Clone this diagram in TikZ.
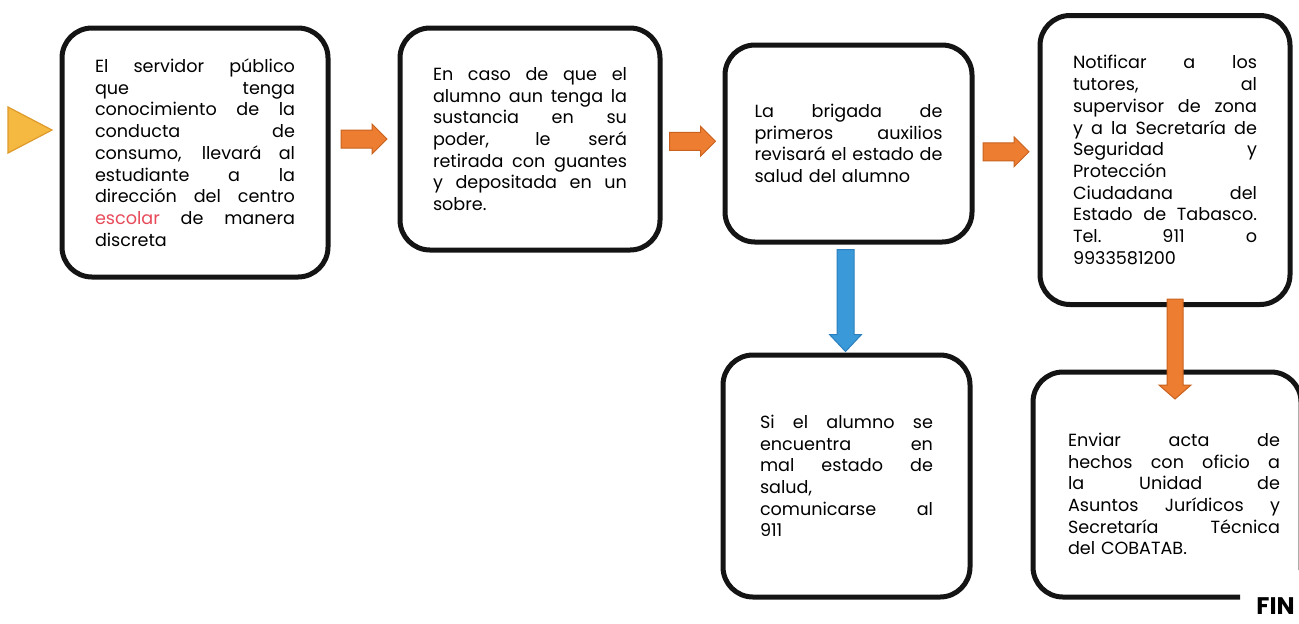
\documentclass[tikz,border=0pt]{standalone}
\usepackage{fontspec}
\setmainfont{Poppins}
\usetikzlibrary{calc}
\definecolor{orfill}{HTML}{ED7D31}
\definecolor{ordraw}{HTML}{C9621F}
\definecolor{blfill}{HTML}{3A9AD9}
\definecolor{bldraw}{HTML}{2C7FBF}
\definecolor{trfill}{HTML}{F5B942}
\definecolor{trdraw}{HTML}{DE9A2A}
\definecolor{escolar}{HTML}{E84B5A}
\newcommand{\J}[1]{\leavevmode\hbox to\hsize{\spaceskip=\fontdimen2\font plus 1fil\relax\xspaceskip=\spaceskip #1}\\}
\tikzset{
  box/.style={draw=black!92, line width=2.5pt, rounded corners=15pt, align=left,
    inner sep=0pt, font=\fontsize{8.8}{10.85}\selectfont},
  rarrow/.pic={\filldraw[fill=orfill, draw=ordraw, line width=0.5pt]
    (-23,-9) -- (8,-9) -- (8,-15) -- (23,0) -- (8,15) -- (8,9) -- (-23,9) -- cycle;},
  darrowblue/.pic={\filldraw[fill=blfill, draw=bldraw, line width=0.5pt]
    (-8.5,-51) -- (8.5,-51) -- (8.5,34) -- (16,34) -- (0,51) -- (-16,34) -- (-8.5,34) -- cycle;},
  darrowor/.pic={\filldraw[fill=orfill, draw=ordraw, line width=0.5pt]
    (-8,-50) -- (8,-50) -- (8,36) -- (16,36) -- (0,50) -- (-16,36) -- (-8,36) -- cycle;},
}
\begin{document}
\begin{tikzpicture}[x=0.5pt, y=-0.5pt]
\useasboundingbox (0,0) rectangle (1299,623);
\fill[white] (0,0) rectangle (1299,623);

% start triangle
\filldraw[fill=trfill, draw=trdraw, line width=0.6pt] (8,107) -- (52,130) -- (8,153) -- cycle;

\node[box, minimum width=133pt, minimum height=124.5pt, text width=100pt] (b1) at (195,152.5) {%
\J{El servidor público}
\J{que tenga}
\J{conocimiento de la}
\J{conducta de}
\J{consumo, llevará al}
\J{estudiante a la}
\J{dirección del centro}
\J{{\color{escolar}escolar} de manera}
discreta};

\node[box, minimum width=130pt, minimum height=111pt, text width=97pt] (b2) at (530,139) {%
\J{En caso de que el}
\J{alumno aun tenga la}
\J{sustancia en su}
\J{poder, le será}
\J{retirada con guantes}
\J{y depositada en un}
sobre.};

\node[box, minimum width=123.5pt, minimum height=98.5pt, text width=94pt] (b3) at (848.5,143.5) {%
\J{La brigada de}
\J{primeros auxilios}
\J{revisará el estado de}
salud del alumno};

\node[box, minimum width=125pt, minimum height=144.5pt, text width=92pt] (b4) at (1165,160) {%
\J{Notificar a los}
\J{tutores, al}
\J{supervisor de zona}
\J{y a la Secretaría de}
\J{Seguridad y}
Protección\\
\J{Ciudadana del}
\J{Estado de Tabasco.}
\J{Tel. 911 o}
9933581200};

\node[box, minimum width=123.5pt, minimum height=121pt, text width=86.5pt] (b6) at (846.5,476) {%
\J{Si el alumno se}
\J{encuentra en}
\J{mal estado de}
salud,\\
\J{comunicarse al}
911};

\node[box, draw=none, text width=106pt] (b5) at (1174,494) {%
\J{Enviar acta de}
\J{hechos con oficio a}
\J{la Unidad de}
\J{Asuntos Jurídicos y}
\J{Secretaría Técnica}
del COBATAB.};
\draw[black!92, line width=2.5pt, rounded corners=15pt]
  (1240,597) -- (1033,597) -- (1033,372) -- (1301,372) -- (1301,570);

% horizontal arrows
\pic at ($(b1.east |- b2.west)!0.5!(b2.west)$) {rarrow};
\pic at ($(b2.east)!0.5!(b3.west)$) {rarrow};
\pic at ($(b3.east)!0.5!(b4.west)$) {rarrow};
% vertical arrows
\pic at ($(b3.south)!0.5!(b6.north)+(-2,2)$) {darrowblue};
\pic at ($(b4.south)+(10,42)$) {darrowor};

\node[anchor=base west, inner sep=0pt, font=\fontsize{12}{14}\selectfont\bfseries] (fin) at (1256,614) {FIN};
\end{tikzpicture}
\end{document}
